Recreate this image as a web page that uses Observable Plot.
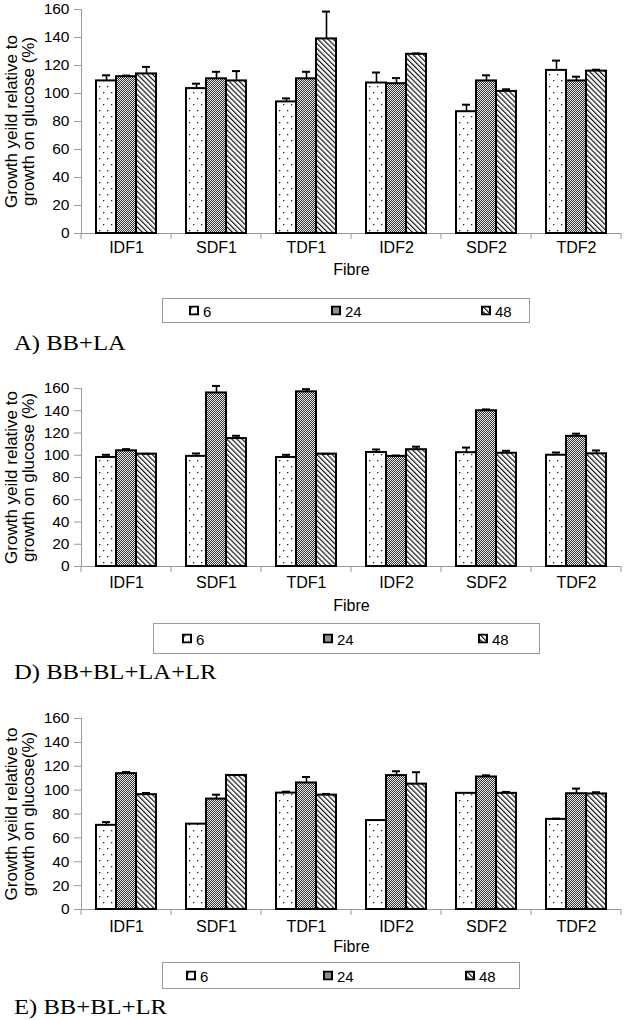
<!DOCTYPE html>
<html>
<head>
<meta charset="utf-8">
<script src="https://cdn.jsdelivr.net/npm/d3@7"></script>
<script src="https://cdn.jsdelivr.net/npm/@observablehq/plot@0.6"></script>
<style>
  body { margin: 0; background: #fff; }
  #page { position: relative; width: 624px; height: 1020px; overflow: hidden; font-family: "Liberation Sans", Arial, sans-serif; }
  .panel { position: absolute; left: 0; }
  .legend { position: absolute; border: 1px solid #9a9a9a; box-sizing: border-box; background: #fff; }
  .item { position: absolute; top: 50%; transform: translateY(-50%); display: flex; align-items: center; font-size: 15px; color: #000; }
  .item svg { margin-right: 4px; }
  .title { position: absolute; left: 14px; font-family: "Liberation Serif", "Times New Roman", serif; font-size: 22px; line-height: 22px; transform-origin: left center; transform: scaleX(1.12); white-space: nowrap; color: #000; }
</style>
</head>
<body>
<div id="page">
<svg width="0" height="0" style="position:absolute">
  <defs>
    <pattern id="p6" width="8" height="12" patternUnits="userSpaceOnUse">
      <rect width="8" height="12" fill="#fff"/>
      <rect x="2" y="2" width="1.3" height="1.3" fill="#222"/>
      <rect x="6" y="8" width="1.3" height="1.3" fill="#222"/>
    </pattern>
    <pattern id="p24" width="2" height="2" patternUnits="userSpaceOnUse">
      <rect width="2" height="2" fill="#ececec"/>
      <rect x="0" y="0" width="1" height="1" fill="#333"/>
      <rect x="1" y="1" width="1" height="1" fill="#333"/>
    </pattern>
    <pattern id="p48" width="3.6" height="3.6" patternUnits="userSpaceOnUse" patternTransform="rotate(-45)">
      <rect width="3.6" height="3.6" fill="#fff"/>
      <line x1="0.6" y1="0" x2="0.6" y2="3.6" stroke="#000" stroke-width="1.1"/>
    </pattern>
  </defs>
</svg>
</div>
<script>
// ---------- data ----------
const fibres = ["IDF1", "SDF1", "TDF1", "IDF2", "SDF2", "TDF2"];
const times = ["6", "24", "48"];
const yTicks = [0, 20, 40, 60, 80, 100, 120, 140, 160];
const titles = ["A) BB+LA", "D) BB+BL+LA+LR", "E) BB+BL+LR"];
const yLabels = [
  "Growth yeild relative to\ngrowth on glucose (%)",
  "Growth yeild relative to\ngrowth on glucose (%)",
  "Growth yeild relative to\ngrowth on glucose(%)"
];
const xLabel = "Fibre";

// Panel A) BB+LA : means and (upper) error bars
const A_v6  = [109, 103.5, 94, 107.5, 87, 116.5];
const A_v24 = [112, 110.5, 110.5, 107, 109, 109];
const A_v48 = [114, 109, 139, 128, 101.5, 116];
const A_e6  = [4, 3.5, 2.5, 7.5, 5, 7];
const A_e24 = [0.8, 5, 5, 4, 4, 3];
const A_e48 = [5, 7, 19.5, 0.6, 1.5, 1];

// Panel D) BB+BL+LA+LR
const D_v6  = [98, 99, 98, 102.5, 102.3, 100];
const D_v24 = [104, 156, 157, 99, 140, 117];
const D_v48 = [101, 115, 101, 105, 101.8, 101.3];
const D_e6  = [2.4, 2.6, 2.4, 2.7, 4.6, 2.5];
const D_e24 = [1.5, 6.3, 2.4, 0.7, 1.2, 2.4];
const D_e48 = [0.3, 2.5, 0.3, 2.7, 2.2, 3];

// Panel E) BB+BL+LR
const E_v6  = [70.5, 71.5, 97.5, 74.5, 97.3, 75.5];
const E_v24 = [113.8, 92.5, 106, 112.2, 111, 97];
const E_v48 = [96.2, 112.3, 95.8, 105, 97.3, 96.8];
const E_e6  = [2.7, 0, 1.2, 0, 0, 0.6];
const E_e24 = [1.4, 3.7, 5, 3.6, 1.4, 4.3];
const E_e48 = [1.4, 0.3, 1, 10, 1.2, 1.4];

// ---------- layout ----------
const patterns = ["url(#p6)", "url(#p24)", "url(#p48)"];
const panels = [
  {v: [A_v6, A_v24, A_v48], e: [A_e6, A_e24, A_e48],
   top: 0, height: 292, marginTop: 9, marginBottom: 59, tickPadding: 8, labelOffset: 41,
   legend: {left: 162, top: 298, width: 368, height: 25, items: [189, 331, 481]}, titleTop: 332},
  {v: [D_v6, D_v24, D_v48], e: [D_e6, D_e24, D_e48],
   top: 350, height: 275, marginTop: 38, marginBottom: 59, tickPadding: 10, labelOffset: 44,
   legend: {left: 153, top: 623, width: 387, height: 31, items: [182, 323, 478]}, titleTop: 661},
  {v: [E_v6, E_v24, E_v48], e: [E_e6, E_e24, E_e48],
   top: 690, height: 265, marginTop: 28, marginBottom: 46, tickPadding: 11, labelOffset: 42,
   legend: {left: 162, top: 962, width: 358, height: 27, items: [186, 323, 465]}, titleTop: 996}
];

const page = document.getElementById("page");

panels.forEach((p, k) => {
  const data = [];
  fibres.forEach((f, i) => times.forEach((t, j) => {
    data.push({fibre: f, time: t, value: p.v[j][i], err: p.e[j][i]});
  }));
  const withErr = data.filter(d => d.err > 0);

  const chart = Plot.plot({
    width: 624, height: p.height,
    marginLeft: 80, marginRight: 3, marginTop: p.marginTop, marginBottom: p.marginBottom,
    style: {fontFamily: "'Liberation Sans', Arial, sans-serif", fontSize: "15px", color: "#000", background: "transparent"},
    fx: {domain: fibres, padding: 0},
    x: {domain: times, paddingInner: 0, paddingOuter: 0.75, axis: null},
    y: {domain: [0, 160]},
    color: {type: "ordinal", domain: times, range: patterns},
    marks: [
      Plot.ruleY([0], {stroke: "#9a9a9a", strokeWidth: 1}),
      Plot.frame({anchor: "left", facetAnchor: "left", stroke: "#9a9a9a"}),
      Plot.barY(data, {fx: "fibre", x: "time", y: "value", fill: "time", stroke: "#000", strokeWidth: 2}),
      Plot.ruleX(withErr, {fx: "fibre", x: "time", y1: "value", y2: d => d.value + d.err, stroke: "#000", strokeWidth: 1.6}),
      Plot.tickY(withErr, {fx: "fibre", x: "time", y: d => d.value + d.err, stroke: "#000", strokeWidth: 2, insetLeft: 6, insetRight: 6}),
      Plot.axisY({ticks: yTicks, tickSize: 7, tickPadding: 5, stroke: "#9a9a9a", fill: "#000", fontSize: 15.5,
                  label: yLabels[k], labelAnchor: "center", labelArrow: "none", labelOffset: 77}),
      Plot.axisFx({anchor: "bottom", tickSize: 0, tickPadding: p.tickPadding, fontSize: 16, label: xLabel, labelAnchor: "center", labelOffset: p.labelOffset})
    ]
  });

  // make the two-line rotated y label a bit larger
  d3.select(chart).selectAll("text").filter(function() { return this.textContent.startsWith("Growth"); })
    .attr("font-size", 17);

  // category boundary ticks on the x axis, from the fx scale
  const fxs = chart.scale("fx");
  const yb = chart.scale("y").apply(0);
  const edges = fibres.map(f => fxs.apply(f)).concat([fxs.apply(fibres[fibres.length - 1]) + fxs.bandwidth]);
  const g = d3.select(chart).append("g").attr("stroke", "#9a9a9a");
  edges.forEach(x => g.append("line").attr("x1", x).attr("x2", x).attr("y1", yb).attr("y2", yb + 6));

  const wrap = document.createElement("div");
  wrap.className = "panel";
  wrap.style.top = p.top + "px";
  wrap.appendChild(chart);
  page.appendChild(wrap);

  // legend
  const lg = document.createElement("div");
  lg.className = "legend";
  Object.assign(lg.style, {left: p.legend.left + "px", top: p.legend.top + "px", width: p.legend.width + "px", height: p.legend.height + "px"});
  times.forEach((t, j) => {
    const it = document.createElement("div");
    it.className = "item";
    it.style.left = (p.legend.items[j] - p.legend.left - 1) + "px";
    it.innerHTML = `<svg width="10" height="10"><rect x="1" y="1" width="8" height="8" fill="${patterns[j]}" stroke="#000" stroke-width="2"/></svg><span>${t}</span>`;
    lg.appendChild(it);
  });
  page.appendChild(lg);

  // panel title
  const tt = document.createElement("div");
  tt.className = "title";
  tt.style.top = p.titleTop + "px";
  tt.textContent = titles[k];
  page.appendChild(tt);
});
</script>
</body>
</html>
